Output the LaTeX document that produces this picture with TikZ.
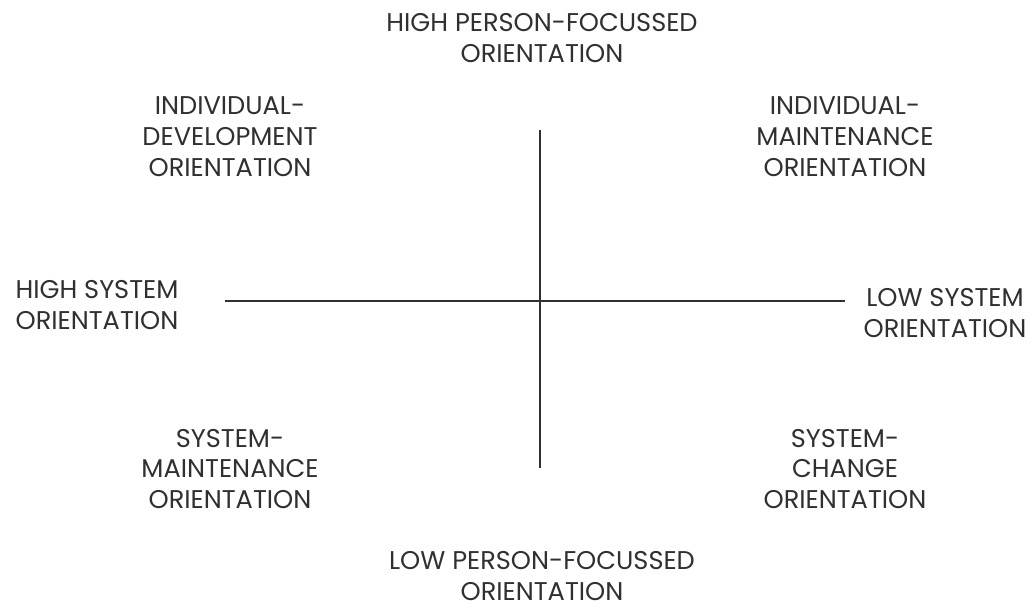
\documentclass[tikz,border=0pt]{standalone}
\usepackage{fontspec}
\setmainfont{Poppins}
\usetikzlibrary{positioning}

\definecolor{inkgray}{HTML}{303030}

\begin{document}
\begin{tikzpicture}[x=0.02cm,y=-0.02cm,
	label/.style={align=center,text=inkgray,font=\fontsize{14.6}{17.6}\selectfont,inner sep=0pt},
	axis/.style={line width=1.25pt,draw=inkgray}]
	\useasboundingbox (0,0) rectangle (1033,611);

	% axis end points
	\coordinate (top) at (540,130);
	\coordinate (bottom) at (540,468);
	\coordinate (left) at (225,301);
	\coordinate (right) at (845,301);

	\draw[axis] (top) -- (bottom);
	\draw[axis] (left) -- (right);

	% axis labels
	\node[label] (highperson) at (542,38) {HIGH PERSON-FOCUSSED\\ORIENTATION};
	\node[label,text depth=0pt,anchor=south] (lowperson) at (542,601) {LOW PERSON-FOCUSSED\\ORIENTATION};
	\node[label] (highsystem) at (97,305) {HIGH SYSTEM\\ORIENTATION};
	\node[label] (lowsystem) at (945,313) {LOW SYSTEM\\ORIENTATION};

	% quadrants
	\node[label] (inddev) at (230,137) {INDIVIDUAL-\\DEVELOPMENT\\ORIENTATION};
	\node[label] (indmain) at (845,137) {INDIVIDUAL-\\MAINTENANCE\\ORIENTATION};
	\node[label] (sysmain) at (230,469) {SYSTEM-\\MAINTENANCE\\ORIENTATION};
	\node[label] (syschange) at (845,469) {SYSTEM-\\CHANGE\\ORIENTATION};
\end{tikzpicture}
\end{document}
